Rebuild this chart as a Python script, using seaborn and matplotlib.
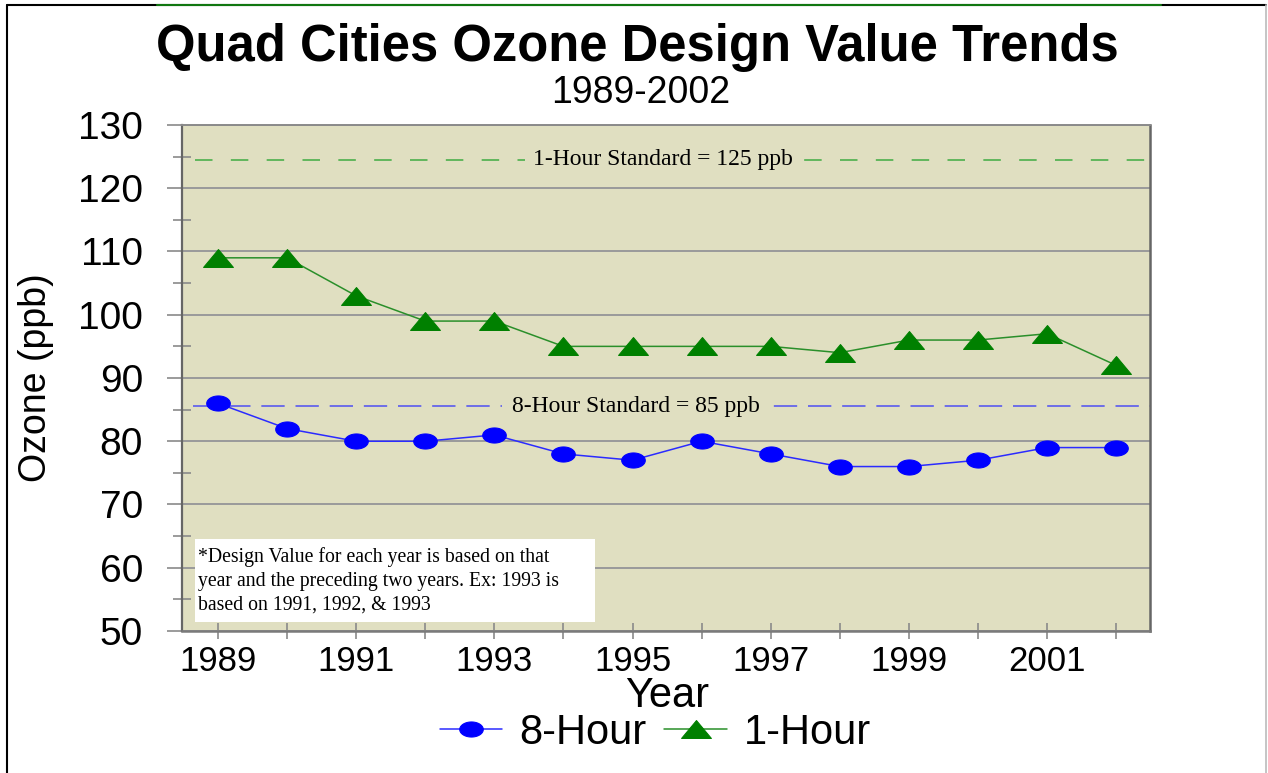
# Quad Cities ozone design value trends, 1989-2002
import matplotlib as mpl
import numpy as np
import pandas
import seaborn as sns
from matplotlib import pyplot
from matplotlib.lines import Line2D
from matplotlib.patches import Rectangle
from matplotlib.path import Path

# %% -- data ---------------------------------------------------------------- #
years = [1989, 1990, 1991, 1992, 1993, 1994, 1995, 1996, 1997, 1998, 1999, 2000, 2001, 2002]
eight_hour = [86, 82, 80, 80, 81, 78, 77, 80, 78, 76, 76, 77, 79, 79]
one_hour = [109, 109, 103, 99, 99, 95, 95, 95, 95, 94, 96, 96, 97, 92]
year_labels = ['1989', '', '1991', '', '1993', '', '1995', '', '1997', '', '1999', '', '2001', '']
yticks = [50, 60, 70, 80, 90, 100, 110, 120, 130]
std_one_hour = 124.5
std_eight_hour = 85.5
std_labels = ['1-Hour Standard = 125 ppb', '8-Hour Standard = 85 ppb']
note = ('*Design Value for each year is based on that\n'
        'year and the preceding two years. Ex: 1993 is\n'
        'based on 1991, 1992, & 1993')

df = pandas.DataFrame({'year': years, '8-Hour': eight_hour, '1-Hour': one_hour})

# %% -- style --------------------------------------------------------------- #
sns.set_style("white")
mpl.rcParams['font.family'] = ['Liberation Sans', 'DejaVu Sans']
mpl.rcParams['text.color'] = 'black'
mpl.rcParams['xtick.labelcolor'] = 'black'
mpl.rcParams['ytick.labelcolor'] = 'black'

bg = '#e0dfc1'
sans = 'Liberation Sans'
serif = 'Liberation Serif'

# flattened marker shapes
t = np.linspace(0, 2 * np.pi, 60)
ellipse = Path(np.column_stack([np.cos(t), 0.64 * np.sin(t)]), closed=True)
flat_tri = Path([(-1, -0.6), (1, -0.6), (0, 0.6), (-1, -0.6)], closed=True)

# %% -- figure -------------------------------------------------------------- #
f = pyplot.figure(figsize=(12.68, 7.73), dpi=100)
ax = f.add_axes([0.1435, 0.1837, 0.7635, 0.6546])
ax.set_facecolor(bg)

sns.lineplot(data=df, x='year', y='8-Hour', ax=ax, color='#2b2bff', linewidth=1.1,
             marker=ellipse, markersize=17, markerfacecolor='#0000ff',
             markeredgecolor='#0000ff', label='8-Hour', zorder=4)
sns.lineplot(data=df, x='year', y='1-Hour', ax=ax, color='#2a8f2a', linewidth=1.1,
             marker=flat_tri, markersize=21.5, markerfacecolor='#008000',
             markeredgecolor='#008000', label='1-Hour', zorder=4)

# standard lines
ax.axhline(std_one_hour, xmin=0.013, xmax=1, color='#4caf4c', linewidth=1.2,
           dashes=(10.5, 11), zorder=2)
ax.axhline(std_eight_hour, xmin=0.011, xmax=1, color='#5a5aee', linewidth=1.2,
           dashes=(14, 6.5), zorder=2)
ax.text(0.497, std_one_hour, std_labels[0], transform=ax.get_yaxis_transform(),
        ha='center', va='center', fontname=serif, fontsize=17, zorder=3,
        bbox=dict(facecolor=bg, edgecolor='none', pad=6))
ax.text(0.469, std_eight_hour, std_labels[1], transform=ax.get_yaxis_transform(),
        ha='center', va='center', fontname=serif, fontsize=17, zorder=3,
        bbox=dict(facecolor=bg, edgecolor='none', pad=7))

# footnote box
ax.add_patch(Rectangle((0.0134, 0.0178), 0.4133, 0.1640, transform=ax.transAxes,
                       facecolor='white', edgecolor='none', zorder=5))
ax.text(0.0165, 0.165, note, transform=ax.transAxes, ha='left', va='top',
        fontname=serif, fontsize=14.2, linespacing=1.33, zorder=6)

# grid and axes
ax.set_ylim(50, 130)
ax.set_xlim(1988.48, 2002.49)
ax.set_yticks(yticks)
ax.set_yticks(np.arange(55, 130, 10), minor=True)
ax.set_xticks(years)
ax.set_xticklabels(year_labels, fontname=sans, fontsize=25)
ax.set_yticklabels([str(v) for v in yticks], fontname=sans, fontsize=28)
ax.yaxis.grid(True, which='major', color='#9a9a9a', linewidth=1.4)
ax.xaxis.grid(False)
ax.tick_params(axis='y', which='major', left=True, direction='out', length=11, width=1.2,
               color='#8a8a8a', pad=17)
ax.tick_params(axis='y', which='minor', left=True, direction='inout', length=13, width=1.2,
               color='#8a8a8a')
ax.tick_params(axis='x', which='major', bottom=True, direction='inout', length=12, width=1.2,
               color='#8a8a8a', pad=4)
for side, col, lw in [('left', '#666666', 1.6), ('right', '#666666', 1.8),
                      ('top', '#8a8a8a', 1.4), ('bottom', '#7a7a7a', 1.8)]:
    ax.spines[side].set_visible(True)
    ax.spines[side].set_color(col)
    ax.spines[side].set_linewidth(lw)

ax.set_xlabel('')
ax.set_ylabel('')
ax.get_legend().remove()

# titles and labels
f.text(0.503, 0.939, 'Quad Cities Ozone Design Value Trends', ha='center', va='center',
       fontname=sans, fontweight='bold', fontsize=36.5)
f.text(0.505, 0.880, '1989-2002', ha='center', va='center', fontname=sans, fontsize=27)
f.text(0.526, 0.100, 'Year', ha='center', va='center', fontname=sans, fontsize=30)
f.text(0.028, 0.511, 'Ozone (ppb)', ha='center', va='center', rotation=90,
       fontname=sans, fontsize=27)

handles, labels = ax.get_legend_handles_labels()
f.legend(handles, labels, loc='center', bbox_to_anchor=(0.517, 0.052), ncol=2,
         frameon=False, prop={'family': sans, 'size': 30}, handlelength=1.5,
         handletextpad=0.42, columnspacing=0.42, borderaxespad=0)

# slide border
f.add_artist(Line2D([0.0055, 0.0055], [0.0, 0.9935], transform=f.transFigure, color='black', linewidth=1.5))
f.add_artist(Line2D([0.0055, 0.9984], [0.9935, 0.9935], transform=f.transFigure, color='black', linewidth=1.5))
f.add_artist(Line2D([0.124, 0.916], [0.9935, 0.9935], transform=f.transFigure, color='#117711', linewidth=1.5))
f.add_artist(Line2D([0.9984, 0.9984], [0.0, 0.9935], transform=f.transFigure, color='#bbbbbb', linewidth=1.2))

pyplot.savefig('out.png', dpi=100)
